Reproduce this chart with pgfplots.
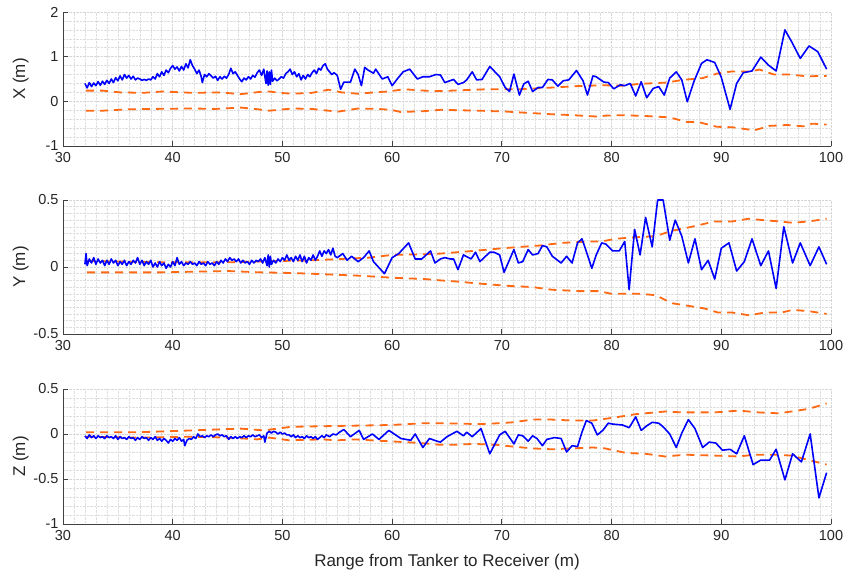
\documentclass[border=0pt]{standalone}
\usepackage{pgfplots}
\pgfplotsset{compat=1.18}
\usepackage{fontspec}
\setmainfont{Liberation Sans}
\definecolor{mblue}{RGB}{0,0,255}
\definecolor{morange}{RGB}{255,105,20}
\definecolor{axgray}{RGB}{64,64,64}
\pgfplotsset{
  myax/.style={
    scale only axis, width=768pt, height=134pt,
    xmin=30, xmax=100, xtick={30,40,...,100},
    minor x tick num=9,
    axis x line*=bottom, axis y line*=left,
    axis line style={axgray, line width=0.9pt},
    tick align=inside, major tick length=5pt, minor tick length=0pt,
    tick style={axgray, line width=0.8pt},
    grid=both,
    major grid style={densely dotted, black!16, line width=0.5pt},
    minor grid style={densely dotted, black!13, line width=0.5pt},
    /pgf/number format/assume math mode=true,
    tick label style={font=\fontsize{14.5}{16}\selectfont, text=black!85},
    xticklabel style={yshift=-3pt},
    yticklabel style={xshift=-1pt},
    label style={font=\fontsize{17}{19}\selectfont, text=black!85},
    ylabel style={at={(axis description cs:-0.055,0.5)}, anchor=center},
    xlabel style={at={(axis description cs:0.5,-0.284)}, anchor=center},
    clip=true,
  },
  bl/.style={mblue, line width=1.6pt, line join=round},
  orl/.style={morange, line width=1.8pt, dash pattern=on 8pt off 6pt},
}
\begin{document}
\begin{tikzpicture}
\useasboundingbox (0,0) rectangle (846pt,578pt);
% ---------------- X ----------------
\begin{axis}[myax, at={(63pt,432pt)}, anchor=south west,
  ymin=-1, ymax=2, ytick={-1,0,1,2}, minor y tick num=4, ylabel={X (m)}]
\addplot[orl] coordinates {(32.1,0.24)(33.6,0.24)(35.2,0.20)(37.3,0.19)(39.1,0.22)(41.8,0.19)(44.3,0.20)(46.2,0.16)(47.9,0.21)(48.8,0.22)(49.7,0.19)(50.9,0.17)(52.7,0.19)(54.2,0.26)(55.4,0.20)(56.9,0.17)(58.4,0.20)(59.6,0.22)(61.1,0.27)(62.9,0.24)(64.4,0.23)(68.6,0.27)(71.7,0.27)(74.7,0.31)(76.8,0.34)(79.2,0.36)(81,0.35)(82.5,0.39)(85,0.42)(86.5,0.48)(88.3,0.52)(89.6,0.62)(91,0.67)(92.6,0.67)(93.5,0.71)(94.8,0.60)(96.3,0.60)(97.8,0.56)(99.6,0.57)};
\addplot[orl] coordinates {(32.1,-0.21)(33.6,-0.21)(35.8,-0.18)(38.2,-0.17)(41.8,-0.16)(43.9,-0.17)(46.2,-0.14)(47.5,-0.17)(48.8,-0.21)(50.9,-0.16)(52.7,-0.17)(54.2,-0.21)(55.1,-0.23)(56.9,-0.16)(58.7,-0.17)(59.9,-0.19)(60.8,-0.24)(62.9,-0.22)(64.4,-0.19)(66.2,-0.20)(68,-0.21)(70.4,-0.23)(72.5,-0.26)(74.6,-0.29)(76.5,-0.31)(78.6,-0.34)(79.5,-0.32)(81,-0.31)(83.2,-0.33)(85.3,-0.36)(86.8,-0.46)(88,-0.47)(89.6,-0.57)(91,-0.58)(93,-0.65)(94.4,-0.55)(96,-0.53)(97.5,-0.56)(98.3,-0.50)(99.6,-0.52)};
\addplot[bl] coordinates {(32.0,0.40)(32.2,0.30)(32.4,0.42)(32.6,0.33)(32.8,0.41)(33.0,0.35)(33.2,0.44)(33.4,0.36)(33.6,0.45)(33.8,0.38)(34.0,0.47)(34.2,0.40)(34.4,0.50)(34.6,0.42)(34.8,0.53)(35.0,0.46)(35.2,0.57)(35.4,0.48)(35.6,0.60)(35.8,0.52)(36.0,0.58)(36.2,0.50)(36.4,0.56)(36.6,0.48)(36.8,0.52)(37.0,0.50)(37.2,0.47)(37.4,0.49)(37.6,0.47)(37.8,0.50)(38.0,0.48)(38.2,0.55)(38.4,0.50)(38.6,0.62)(38.8,0.55)(39.0,0.66)(39.2,0.58)(39.4,0.70)(39.6,0.64)(39.8,0.74)(40.0,0.80)(40.2,0.72)(40.4,0.77)(40.6,0.68)(40.8,0.78)(41.0,0.70)(41.2,0.84)(41.4,0.75)(41.6,0.93)(41.8,0.80)(42.0,0.72)(42.2,0.62)(42.4,0.70)(42.6,0.55)(42.7,0.42)(42.9,0.60)(43.1,0.55)(43.3,0.62)(43.5,0.57)(43.7,0.52)(43.9,0.56)(44.1,0.47)(44.3,0.55)(44.5,0.50)(44.7,0.56)(44.9,0.52)(45.1,0.60)(45.3,0.74)(45.5,0.62)(45.7,0.66)(45.9,0.58)(46.1,0.50)(46.3,0.44)(46.5,0.52)(46.7,0.48)(46.9,0.55)(47.1,0.50)(47.3,0.58)(47.5,0.54)(47.7,0.64)(47.9,0.70)(48.1,0.58)(48.3,0.72)(48.5,0.40)(48.6,0.68)(48.7,0.36)(48.8,0.66)(48.9,0.38)(49.0,0.70)(49.1,0.45)(49.3,0.52)(49.5,0.46)(49.7,0.50)(49.9,0.55)(50.1,0.52)(50.3,0.62)(50.5,0.66)(50.7,0.72)(50.9,0.60)(51.1,0.66)(51.3,0.55)(51.5,0.62)(51.7,0.48)(51.9,0.58)(52.1,0.50)(52.3,0.60)(52.5,0.55)(52.7,0.64)(52.9,0.70)(53.1,0.62)(53.3,0.74)(53.5,0.70)(53.7,0.80)(53.9,0.84)(54.1,0.72)(54.3,0.66)(54.5,0.60)(54.7,0.64)(55.0,0.58)(55.3,0.27)(55.6,0.43)(56.2,0.43)(56.6,0.72)(56.9,0.60)(57.2,0.35)(57.5,0.76)(57.8,0.70)(58.3,0.63)(58.5,0.72)(59.1,0.50)(59.6,0.55)(60.0,0.35)(60.4,0.48)(61.0,0.66)(61.6,0.72)(62.3,0.50)(62.8,0.55)(63.4,0.55)(64.0,0.60)(64.4,0.59)(64.8,0.42)(65.6,0.49)(66.0,0.38)(66.5,0.42)(66.8,0.48)(67.3,0.66)(67.7,0.48)(68.2,0.49)(68.9,0.78)(69.8,0.55)(70.3,0.31)(70.7,0.22)(71.1,0.61)(71.6,0.14)(72.0,0.39)(72.4,0.45)(72.8,0.22)(73.3,0.31)(73.7,0.31)(74.2,0.49)(74.6,0.48)(75.1,0.34)(75.6,0.46)(76.1,0.48)(76.8,0.69)(77.4,0.46)(77.8,0.14)(78.3,0.57)(78.6,0.55)(79.3,0.43)(79.7,0.42)(80.2,0.28)(80.8,0.37)(81.2,0.35)(81.7,0.40)(82.2,0.12)(82.7,0.44)(83.2,0.08)(83.8,0.29)(84.3,0.33)(84.8,0.14)(85.3,0.52)(85.9,0.66)(86.4,0.48)(86.9,-0.01)(87.5,0.44)(88.2,0.85)(88.7,0.93)(89.4,0.87)(90.0,0.54)(90.8,-0.18)(91.4,0.40)(92.0,0.64)(92.8,0.68)(93.6,0.99)(94.3,0.81)(95.0,0.68)(95.8,1.60)(96.4,1.34)(97.2,0.96)(98.0,1.24)(98.8,1.11)(99.6,0.72)};
\end{axis}
% ---------------- Y ----------------
\begin{axis}[myax, at={(63pt,244pt)}, anchor=south west,
  ymin=-0.5, ymax=0.5, ytick={-0.5,0,0.5}, minor y tick num=9, ylabel={Y (m)}]
\addplot[orl] coordinates {(32.2,0.045)(39,0.035)(45,0.035)(50,0.045)(52.7,0.05)(55.4,0.06)(57.9,0.07)(60,0.09)(63,0.095)(64.4,0.10)(67.4,0.12)(70.1,0.14)(71.7,0.15)(73.4,0.16)(75.5,0.18)(77.9,0.19)(79.1,0.19)(80.3,0.21)(81.8,0.22)(84,0.23)(85.5,0.27)(87.3,0.30)(89.4,0.34)(91,0.34)(92.5,0.36)(93.8,0.35)(95.3,0.34)(96.5,0.33)(98,0.34)(99.6,0.36)};
\addplot[orl] coordinates {(32.2,-0.04)(39,-0.04)(45,-0.03)(48,-0.04)(51,-0.045)(54,-0.055)(57,-0.065)(60,-0.08)(63,-0.09)(64.4,-0.10)(66.2,-0.11)(67.4,-0.12)(70.4,-0.14)(72.8,-0.15)(74.6,-0.17)(77,-0.18)(78.8,-0.18)(80,-0.20)(82.5,-0.20)(84,-0.21)(85.5,-0.27)(87,-0.29)(88.5,-0.31)(89.7,-0.34)(91,-0.34)(92.5,-0.36)(94,-0.34)(95.5,-0.34)(96.5,-0.32)(98,-0.33)(99.6,-0.35)};
\addplot[bl] coordinates {(32.0,0.02)(32.1,0.10)(32.2,0.01)(32.4,0.06)(32.6,0.03)(32.8,0.07)(33.0,0.02)(33.2,0.06)(33.4,0.03)(33.6,0.05)(33.8,0.01)(34.0,0.05)(34.2,0.02)(34.4,0.06)(34.6,0.03)(34.8,0.05)(35.0,0.01)(35.2,0.04)(35.4,0.02)(35.6,0.05)(35.8,0.01)(36.0,0.04)(36.2,0.02)(36.4,0.05)(36.6,0.03)(36.8,0.07)(37.0,0.02)(37.2,0.05)(37.4,0.01)(37.6,0.04)(37.8,0.02)(38.0,0.05)(38.2,0.00)(38.4,0.03)(38.6,0.00)(38.8,0.04)(39.0,0.01)(39.2,0.03)(39.4,-0.01)(39.6,0.02)(39.8,0.00)(40.0,0.04)(40.2,0.01)(40.4,0.07)(40.6,0.02)(40.8,0.04)(41.0,0.01)(41.2,0.03)(41.4,0.02)(41.6,0.04)(41.8,0.02)(42.0,0.03)(42.2,0.01)(42.4,0.04)(42.6,0.02)(42.8,0.03)(43.0,0.01)(43.2,0.04)(43.4,0.02)(43.6,0.03)(43.8,0.01)(44.0,0.04)(44.2,0.02)(44.4,0.05)(44.6,0.03)(44.8,0.06)(45.0,0.04)(45.2,0.07)(45.4,0.05)(45.6,0.06)(45.8,0.04)(46.0,0.06)(46.2,0.03)(46.4,0.05)(46.6,0.03)(46.8,0.04)(47.0,0.02)(47.2,0.05)(47.4,0.03)(47.6,0.05)(47.8,0.04)(48.0,0.06)(48.2,0.03)(48.4,0.07)(48.6,0.01)(48.7,0.09)(48.8,0.00)(48.9,0.08)(49.0,0.02)(49.2,0.05)(49.4,0.03)(49.6,0.06)(49.8,0.04)(50.0,0.07)(50.2,0.05)(50.4,0.09)(50.6,0.05)(50.8,0.07)(51.0,0.04)(51.2,0.08)(51.4,0.05)(51.6,0.09)(51.8,0.04)(52.0,0.08)(52.2,0.03)(52.4,0.07)(52.6,0.05)(52.8,0.09)(53.0,0.05)(53.2,0.08)(53.4,0.12)(53.6,0.08)(53.8,0.12)(54.0,0.10)(54.2,0.13)(54.4,0.09)(54.6,0.14)(54.8,0.08)(55.0,0.07)(55.5,0.10)(55.9,0.05)(56.3,0.08)(56.9,0.04)(57.4,0.07)(57.9,0.12)(58.3,0.04)(59.3,-0.05)(60.0,0.07)(60.6,0.10)(61.5,0.18)(62.1,0.06)(62.7,0.06)(63.5,0.12)(63.9,0.03)(64.4,0.06)(64.8,0.07)(65.3,0.06)(65.6,0.06)(66.0,-0.02)(66.5,0.09)(67.2,0.06)(67.6,0.11)(68.0,0.04)(68.9,0.11)(69.3,0.11)(69.8,0.09)(70.2,-0.04)(71.1,0.13)(71.5,0.03)(71.9,0.04)(72.4,0.13)(72.8,0.09)(73.3,0.10)(73.7,0.16)(74.1,0.15)(74.6,0.08)(75.4,0.03)(75.9,0.08)(76.4,0.03)(76.9,0.18)(77.3,0.21)(77.6,0.14)(78.2,-0.01)(78.6,0.09)(79.1,0.18)(79.5,0.17)(80.1,0.12)(80.7,0.12)(81.2,0.19)(81.6,-0.17)(82.1,0.28)(82.6,0.09)(83.1,0.37)(83.7,0.15)(84.2,0.50)(84.7,0.50)(85.3,0.20)(85.8,0.35)(86.4,0.23)(87.0,0.03)(87.6,0.21)(88.2,-0.02)(88.8,0.05)(89.4,-0.09)(90.0,0.14)(90.7,0.18)(91.4,-0.03)(92.1,0.04)(92.8,0.21)(93.6,0.01)(94.3,0.12)(95.0,-0.16)(95.7,0.30)(96.5,0.03)(97.2,0.18)(98.1,0.01)(98.9,0.15)(99.6,0.02)};
\end{axis}
% ---------------- Z ----------------
\begin{axis}[myax, at={(63pt,54pt)}, anchor=south west, height=135pt,
  ymin=-1, ymax=0.5, ytick={-1,-0.5,0,0.5}, minor y tick num=4, ylabel={Z (m)},
  xlabel={Range from Tanker to Receiver (m)}]
\addplot[orl] coordinates {(32.1,0.02)(37,0.02)(41.8,0.04)(46.2,0.06)(48.3,0.04)(50.8,0.08)(55.3,0.09)(59.9,0.10)(62.9,0.12)(64.4,0.12)(68,0.11)(69.8,0.12)(71,0.13)(72.8,0.16)(74.6,0.16)(76.4,0.15)(78.3,0.15)(80.1,0.18)(82.2,0.22)(84.9,0.25)(86.4,0.24)(89.4,0.24)(91.6,0.26)(93.4,0.24)(95.2,0.23)(96.4,0.25)(98,0.28)(99.6,0.34)};
\addplot[orl] coordinates {(32.1,-0.03)(37,-0.04)(41.8,-0.03)(44.9,-0.04)(46.5,-0.05)(47.7,-0.06)(48.8,-0.04)(50.6,-0.07)(53.6,-0.06)(55,-0.07)(56.6,-0.06)(59.6,-0.08)(62.6,-0.10)(64.4,-0.12)(65.6,-0.12)(67.4,-0.11)(69.5,-0.12)(71,-0.14)(72.8,-0.16)(74.6,-0.17)(76.4,-0.16)(78.3,-0.15)(79.4,-0.16)(81.3,-0.21)(83.1,-0.22)(84.9,-0.25)(86.7,-0.23)(89.4,-0.24)(91.6,-0.25)(93,-0.23)(94.9,-0.23)(96.4,-0.24)(98,-0.29)(99.6,-0.34)};
\addplot[bl] coordinates {(32.0,-0.02)(32.2,-0.05)(32.4,-0.01)(32.6,-0.04)(32.8,-0.02)(33.0,-0.05)(33.2,-0.02)(33.4,-0.04)(33.6,-0.03)(33.8,-0.05)(34.0,-0.02)(34.2,-0.04)(34.4,-0.03)(34.6,-0.05)(34.8,-0.02)(35.0,-0.06)(35.2,-0.03)(35.4,-0.05)(35.6,-0.04)(35.8,-0.06)(36.0,-0.03)(36.2,-0.05)(36.4,-0.04)(36.6,-0.07)(36.8,-0.04)(37.0,-0.06)(37.2,-0.03)(37.4,-0.05)(37.6,-0.04)(37.8,-0.07)(38.0,-0.04)(38.2,-0.06)(38.4,-0.03)(38.6,-0.07)(38.8,-0.05)(39.0,-0.08)(39.2,-0.05)(39.4,-0.07)(39.6,-0.10)(39.8,-0.06)(40.0,-0.08)(40.2,-0.05)(40.4,-0.07)(40.6,-0.04)(40.8,-0.08)(41.0,-0.06)(41.1,-0.13)(41.3,-0.07)(41.5,-0.05)(41.7,-0.06)(41.9,-0.03)(42.1,-0.05)(42.3,0.00)(42.5,-0.03)(42.7,-0.02)(42.9,-0.04)(43.1,-0.02)(43.3,-0.03)(43.5,-0.01)(43.7,-0.03)(43.9,-0.01)(44.1,0.00)(44.3,-0.02)(44.5,-0.01)(44.7,-0.03)(44.9,-0.02)(45.1,-0.06)(45.3,-0.03)(45.5,-0.05)(45.7,-0.03)(45.9,-0.05)(46.1,-0.03)(46.3,-0.04)(46.5,-0.02)(46.7,-0.04)(46.9,-0.02)(47.1,-0.03)(47.3,-0.01)(47.5,-0.03)(47.7,-0.02)(47.9,-0.01)(48.1,-0.04)(48.3,-0.02)(48.4,-0.09)(48.6,0.01)(48.8,0.03)(49.0,0.01)(49.2,0.03)(49.4,0.02)(49.6,0.00)(49.8,0.02)(50.0,0.00)(50.2,0.01)(50.4,-0.01)(50.6,-0.01)(50.8,-0.03)(51.0,-0.01)(51.2,-0.04)(51.4,-0.02)(51.6,-0.04)(51.8,-0.03)(52.0,-0.05)(52.2,-0.02)(52.4,-0.04)(52.6,-0.03)(52.8,-0.05)(53.0,-0.03)(53.2,-0.06)(53.4,-0.04)(53.6,-0.02)(53.8,-0.04)(54.0,-0.01)(54.3,-0.03)(54.6,0.00)(54.9,-0.01)(55.2,0.02)(55.6,0.05)(56.2,-0.03)(57.0,0.04)(57.4,-0.06)(58.2,0.00)(58.8,-0.06)(59.7,0.04)(60.8,-0.05)(61.7,-0.07)(62.1,0.00)(62.8,-0.15)(63.4,-0.05)(64.1,-0.08)(64.4,-0.09)(65.0,-0.03)(65.9,0.03)(66.5,-0.02)(66.8,0.02)(67.3,-0.03)(68.1,0.06)(68.9,-0.22)(69.8,-0.01)(70.3,0.03)(71.1,-0.11)(71.5,-0.01)(71.9,-0.02)(72.4,-0.08)(72.8,-0.02)(73.2,-0.05)(73.7,-0.13)(74.1,-0.06)(74.8,-0.04)(75.4,-0.05)(75.9,-0.20)(76.4,-0.13)(76.9,-0.14)(77.3,0.02)(77.7,0.15)(78.2,0.12)(78.7,-0.01)(79.2,0.04)(79.7,0.12)(80.1,0.11)(81.0,0.10)(81.6,0.07)(82.2,0.19)(82.7,0.04)(83.2,0.09)(83.7,0.13)(84.3,0.12)(84.7,0.08)(85.3,0.00)(85.9,-0.15)(86.4,0.01)(87.0,0.16)(87.6,0.06)(88.3,-0.15)(88.9,-0.09)(89.5,-0.10)(90.1,-0.18)(90.8,-0.17)(91.4,-0.22)(92.1,-0.02)(92.9,-0.34)(93.6,-0.29)(94.4,-0.29)(95.0,-0.17)(95.8,-0.51)(96.5,-0.22)(97.3,-0.31)(98.1,0.00)(98.9,-0.71)(99.6,-0.43)};
\end{axis}
\end{tikzpicture}
\end{document}
